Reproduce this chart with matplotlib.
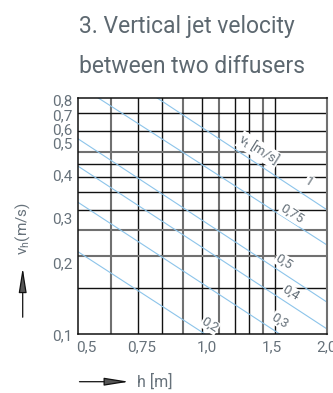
import matplotlib
matplotlib.use("Agg")
import matplotlib.pyplot as plt
from matplotlib.ticker import NullLocator, FixedLocator, FixedFormatter
from matplotlib.patches import FancyArrowPatch

plt.rcParams['font.family'] = ['Roboto', 'DejaVu Sans']
plt.rcParams['mathtext.fontset'] = 'custom'
plt.rcParams['mathtext.rm'] = 'Roboto'
plt.rcParams['mathtext.it'] = 'Roboto'

# ---- data ----
title_lines = ["3. Vertical jet velocity", "between two diffusers"]
vt_values = [1.0, 0.75, 0.5, 0.4, 0.3, 0.2]
vt_labels = ["1", "0,75", "0,5", "0,4", "0,3", "0,2"]
h_ends = [0.5, 2.0]
vh_at_h05 = [1.27, 0.90, 0.56, 0.44, 0.32, 0.207]
vh_at_h20 = [0.30, 0.22, 0.133, 0.105, 0.0765, 0.050]
xtick_labels = ["0,5", "0,75", "1,0", "1,5", "2,0"]
ytick_labels = ["0,1", "0,2", "0,3", "0,4", "0,5", "0,6", "0,7", "0,8"]
x_grid_black = [0.7, 0.8, 1.0, 1.2, 1.3, 1.5]
x_grid_gray = [0.6, 0.9, 1.1, 1.4]
y_grid_black = [0.15, 0.3, 0.35, 0.4, 0.45, 0.6, 0.7]
y_grid_gray = [0.2, 0.25, 0.5]

# ---- layout / style ----
xtick_pos = [0.523, 0.713, 1.025, 1.47, 2.0]
ytick_pos = [0.1, 0.187, 0.278, 0.4095, 0.5395, 0.613, 0.6935, 0.788]
line_label_pos = [(1.812, 0.383), (1.645, 0.289), (1.576, 0.190),
                  (1.639, 0.144), (1.542, 0.1126), (1.043, 0.1085)]
vt_title_pos = (1.371, 0.507)
W, H = 333, 393
txt_gray = '#66717a'
blue = '#8cc4ea'

fig = plt.figure(figsize=(W / 100, H / 100), dpi=100)
left, right, top, bottom = 78 / W, 326.7 / W, 1 - 98.3 / H, 1 - 334.3 / H
ax = fig.add_axes([left, bottom, right - left, top - bottom])
ax.set_xscale('log')
ax.set_yscale('log')
ax.set_xlim(0.5, 2.0)
ax.set_ylim(0.1, 0.8)

for x in x_grid_black:
    ax.axvline(x, color='#111111', lw=1.0, zorder=1)
for x in x_grid_gray:
    ax.axvline(x, color='#707070', lw=1.5, zorder=1)
for y in y_grid_black:
    ax.axhline(y, color='#111111', lw=1.0, zorder=1)
for y in y_grid_gray:
    ax.axhline(y, color='#707070', lw=1.5, zorder=1)

for v0, v1 in zip(vh_at_h05, vh_at_h20):
    ax.plot(h_ends, [v0, v1], color=blue, lw=0.8, zorder=2)

for lab, (hx, vy) in zip(vt_labels, line_label_pos):
    ax.text(hx, vy, lab, rotation=-32, rotation_mode='anchor', ha='center', va='center',
            fontsize=9.5, color=txt_gray, zorder=3,
            bbox=dict(facecolor='white', edgecolor='none', pad=0.3))
ax.text(vt_title_pos[0], vt_title_pos[1], r'v$_\mathregular{t}$ [m/s]', rotation=-32,
        rotation_mode='anchor', ha='center', va='center', fontsize=9.5, color=txt_gray, zorder=3,
        bbox=dict(facecolor='white', edgecolor='none', pad=0.3))

ax.xaxis.set_major_locator(FixedLocator(xtick_pos))
ax.xaxis.set_major_formatter(FixedFormatter(xtick_labels))
ax.yaxis.set_major_locator(FixedLocator(ytick_pos))
ax.yaxis.set_major_formatter(FixedFormatter(ytick_labels))
ax.xaxis.set_minor_locator(NullLocator())
ax.yaxis.set_minor_locator(NullLocator())
ax.tick_params(axis='both', length=0, labelsize=11, labelcolor=txt_gray)
ax.tick_params(axis='x', pad=4.5)
ax.tick_params(axis='y', pad=4)

for s in ['left', 'bottom', 'top']:
    ax.spines[s].set_color('#111111')
    ax.spines[s].set_linewidth(1.1)
ax.spines['right'].set_color('#707070')
ax.spines['right'].set_linewidth(1.5)

fig.text(79 / W, 1 - 33.3 / H, title_lines[0], fontsize=16.5, color='#5d6870',
         ha='left', va='baseline')
fig.text(79 / W, 1 - 73.3 / H, title_lines[1], fontsize=16.5, color='#5d6870',
         ha='left', va='baseline')

fig.text(22.7 / W, 1 - 229 / H, r'v$_\mathregular{h}$(m/s)', rotation=90, ha='center', va='center',
         fontsize=11, color=txt_gray)
fig.text(136.7 / W, 1 - 381.7 / H, 'h [m]', ha='left', va='center', fontsize=11.5, color=txt_gray)

arrow_style = '-|>,head_length=15,head_width=2.4'
fig.patches.append(FancyArrowPatch((22.7 / W, 1 - 320 / H), (22.7 / W, 1 - 265 / H),
                                   transform=fig.transFigure, arrowstyle=arrow_style,
                                   mutation_scale=1, lw=0.9, color='#111111', fc='#555555'))
fig.patches.append(FancyArrowPatch((76.7 / W, 1 - 381.7 / H), (131.7 / W, 1 - 381.7 / H),
                                   transform=fig.transFigure, arrowstyle=arrow_style,
                                   mutation_scale=1, lw=0.9, color='#111111', fc='#555555'))

fig.savefig('out.png', dpi=100, facecolor='white')
